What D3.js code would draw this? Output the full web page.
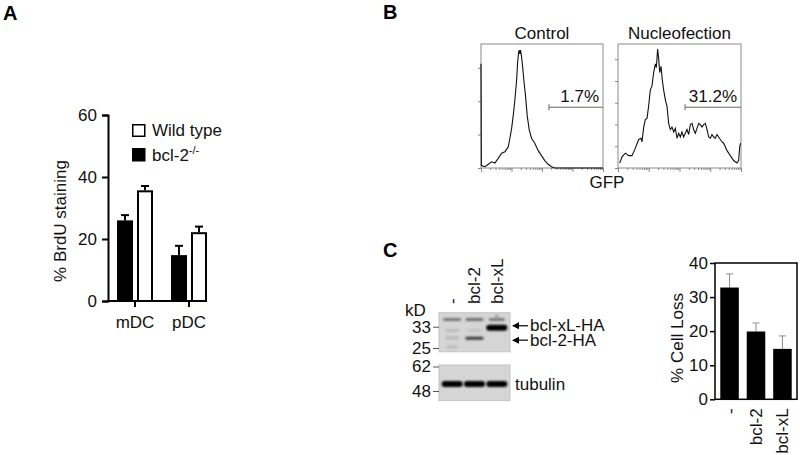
<!DOCTYPE html>
<meta charset="utf-8">
<style>
    body { margin: 0; background: #fff; }
    text { font-family: "Liberation Sans", Arial, Helvetica, sans-serif; font-size: 17px; fill: #111; }
    .panel { font-weight: bold; font-size: 20px; fill: #000; }
    .axA path, .axA line { stroke: #000; stroke-width: 2px; }
    .axC path, .axC line { stroke: #000; stroke-width: 1.5px; }
    .hist path.domain { display: none; }
    .hist line { stroke: #888; stroke-width: 1px; }
    .noline path.domain { display: none; }
</style>
<svg width="800" height="455"></svg>
<script src="https://d3js.org/d3.v7.min.js"></script>
<script>
    // ---- panel A: BrdU staining
    let cellTypes = ["mDC", "pDC"];
    let genotypes = ["bcl-2-/-", "Wild type"];
    let brduKO = [26.0, 14.8];
    let brduKOSem = [1.7, 3.0];
    let brduWT = [35.7, 22.2];
    let brduWTSem = [1.4, 1.8];
    let brduTicks = [0, 20, 40, 60];

    // ---- panel B: GFP histograms, [channel, % of scale]
    let controlHist = [[0,84],[3,2],[33,1],[60,3],[87,5],[114,4],[142,8],[169,12],[196,13],[223,17],[237,24],
        [251,32],[264,42],[278,55],[292,71],[300,85],[308,93],[313,95],[319,92],[324,95],[332,90],[341,82],
        [351,71],[365,58],[379,42],[395,31],[414,24],[441,20],[469,14],[496,10],[523,6],[550,3],[578,1],
        [605,0],[1000,0]];
    let nucleoHist = [[14,4],[33,9],[60,12],[87,10],[114,10],[141,16],[168,23],[187,24],[195,21],[209,33],
        [222,39],[236,40],[249,50],[263,63],[276,66],[290,77],[304,84],[312,81],[322,96],[331,88],[339,77],
        [350,82],[360,71],[371,63],[385,55],[398,50],[412,36],[425,31],[439,33],[453,29],[466,32],[480,24],
        [493,28],[507,25],[520,29],[534,25],[547,28],[561,31],[575,27],[588,35],[602,36],[615,31],[629,28],
        [642,32],[656,36],[669,35],[683,33],[696,35],[710,36],[724,31],[737,25],[751,24],[764,27],[778,25],
        [791,24],[805,27],[818,25],[832,23],[846,21],[859,20],[873,17],[886,14],[900,12],[913,10],[927,8],
        [940,6],[954,5],[967,4],[981,6],[989,17],[997,20]];
    let histTitles = ["Control", "Nucleofection"];
    let gateStart = [557, 545];
    let gateLevel = 49;
    let gateLabels = ["1.7%", "31.2%"];
    let countMax = [74.3, 57];
    let countTicks = [[0, 20, 40, 60], [0, 10, 20, 30, 40, 50]];

    // ---- panel C: western blot
    let lanes = ["-", "bcl-2", "bcl-xL"];
    let upperMarkers = [33, 25];
    let lowerMarkers = [62, 48];
    let upperBlotRange = [39.6, 23.8];
    let lowerBlotRange = [63, 43.4];
    let bands = [
        {blot: "upper", lane: "-", kd: 36.3, dark: 0.45, h: 3, w: 0.9},
        {blot: "upper", lane: "bcl-2", kd: 36.3, dark: 0.5, h: 3, w: 0.9},
        {blot: "upper", lane: "bcl-xL", kd: 36.3, dark: 0.45, h: 3, w: 0.8},
        {blot: "upper", lane: "bcl-xL", kd: 37.8, dark: 0.4, h: 2, w: 0.2},
        {blot: "upper", lane: "bcl-xL", kd: 32.6, dark: 1, h: 6, w: 1.05},
        {blot: "upper", lane: "bcl-2", kd: 28.4, dark: 0.75, h: 3, w: 0.9},
        {blot: "upper", lane: "-", kd: 31.4, dark: 0.12, h: 3, w: 0.7},
        {blot: "upper", lane: "-", kd: 28.5, dark: 0.14, h: 3, w: 0.7},
        {blot: "upper", lane: "-", kd: 25.3, dark: 0.12, h: 3, w: 0.6},
        {blot: "upper", lane: "bcl-2", kd: 31.4, dark: 0.08, h: 3, w: 0.7},
        {blot: "lower", lane: "-", kd: 51.6, dark: 1, h: 6, w: 1.05},
        {blot: "lower", lane: "bcl-2", kd: 51.6, dark: 1, h: 6, w: 1.05},
        {blot: "lower", lane: "bcl-xL", kd: 51.6, dark: 1, h: 6, w: 1.05}
    ];
    let bandLabels = [{kd: 33.4, text: "bcl-xL-HA"}, {kd: 27.7, text: "bcl-2-HA"}];

    // ---- panel C: cell loss
    let constructs = ["-", "bcl-2", "bcl-xL"];
    let cellLoss = [32.8, 19.9, 14.8];
    let cellLossSem = [4.0, 2.5, 3.8];
    let cellLossTicks = [0, 10, 20, 30, 40];

    let svg = d3.select("svg");

    // panel letters
    svg.append("text").attr("class", "panel").attr("x", 3).attr("y", 20).text("A");
    svg.append("text").attr("class", "panel").attr("x", 383).attr("y", 19).text("B");
    svg.append("text").attr("class", "panel").attr("x", 383).attr("y", 257).text("C");

    // ================= A =================
    let xA = d3.scaleBand().domain(cellTypes).range([108, 216]);
    let xA2 = d3.scaleBand().domain(genotypes).range([9, 45]).paddingInner(0.2);
    let yA = d3.scaleLinear().domain([0, 60]).range([301, 115]);
    let gA = svg.append("g");

    gA.append("g").attr("class", "axA").attr("transform", "translate(108,0)")
        .call(d3.axisLeft(yA).tickValues(brduTicks).tickSize(6).tickPadding(5));
    gA.append("g").attr("class", "axA noline").attr("transform", "translate(0,301)")
        .call(d3.axisBottom(xA).tickSize(6).tickPadding(9).tickSizeOuter(0));
    gA.append("line")
        .attr("x1", 107).attr("x2", xA("pDC") + xA.bandwidth() / 2 + 6)
        .attr("y1", 301).attr("y2", 301).attr("stroke", "#000").attr("stroke-width", 2);

    let rowsA = [];
    cellTypes.forEach(function(c, i) {
        rowsA.push({c: c, g: genotypes[0], v: brduKO[i], e: brduKOSem[i]});
        rowsA.push({c: c, g: genotypes[1], v: brduWT[i], e: brduWTSem[i]});
    });
    let barA = gA.selectAll(".barA").data(rowsA).enter().append("g").attr("class", "barA");
    barA.append("line")
        .attr("x1", function(d) { return xA(d.c) + xA2(d.g) + xA2.bandwidth() / 2; })
        .attr("x2", function(d) { return xA(d.c) + xA2(d.g) + xA2.bandwidth() / 2; })
        .attr("y1", function(d) { return yA(d.v); })
        .attr("y2", function(d) { return yA(d.v + d.e); })
        .attr("stroke", "#000").attr("stroke-width", 2);
    barA.append("line")
        .attr("x1", function(d) { return xA(d.c) + xA2(d.g) + xA2.bandwidth() / 2 - 4; })
        .attr("x2", function(d) { return xA(d.c) + xA2(d.g) + xA2.bandwidth() / 2 + 4; })
        .attr("y1", function(d) { return yA(d.v + d.e); })
        .attr("y2", function(d) { return yA(d.v + d.e); })
        .attr("stroke", "#000").attr("stroke-width", 2);
    barA.append("rect")
        .attr("x", function(d) { return xA(d.c) + xA2(d.g) + (d.g === "Wild type" ? 1 : 0); })
        .attr("width", function(d) { return xA2.bandwidth() - (d.g === "Wild type" ? 2 : 0); })
        .attr("y", function(d) { return yA(d.v) + (d.g === "Wild type" ? 1 : 0); })
        .attr("height", function(d) { return yA(0) - yA(d.v) - (d.g === "Wild type" ? 1 : 0); })
        .attr("fill", function(d) { return d.g === "Wild type" ? "#fff" : "#000"; })
        .attr("stroke", "#000").attr("stroke-width", function(d) { return d.g === "Wild type" ? 2 : 0; });

    // legend
    let legA = gA.append("g").attr("transform", "translate(132,124)");
    legA.append("rect").attr("x", 0.75).attr("y", 0.75).attr("width", 12).attr("height", 11.5)
        .attr("fill", "#fff").attr("stroke", "#000").attr("stroke-width", 1.5);
    legA.append("text").attr("x", 20).attr("y", 11.5).text("Wild type");
    legA.append("rect").attr("x", 0).attr("y", 24).attr("width", 13.5).attr("height", 13.5).attr("fill", "#000");
    let koText = legA.append("text").attr("x", 20).attr("y", 37).text("bcl-2");
    koText.append("tspan").attr("dy", -7).style("font-size", "11px").text("-/-");

    gA.append("text").attr("transform", "translate(66,221) rotate(-90)")
        .attr("text-anchor", "middle").text("% BrdU staining");

    // ================= B =================
    let histBoxes = [[481, 603], [618, 741]];
    let yH = d3.scaleLinear().domain([0, 100]).range([168, 44]);
    [controlHist, nucleoHist].forEach(function(hist, k) {
        let xH = d3.scaleLinear().domain([0, 1000]).range(histBoxes[k]);
        let xLog = d3.scaleLog().domain([1, 10000]).range(histBoxes[k]);
        let yCount = d3.scaleLinear().domain([0, countMax[k]]).range([168, 44]);
        let g = svg.append("g");

        let minor = [];
        for (let p = 0; p < 4; p++) for (let m = 2; m < 10; m++) minor.push(m * Math.pow(10, p));
        g.append("g").attr("class", "hist").attr("transform", "translate(0,168)")
            .call(d3.axisBottom(xLog).tickValues(minor).tickSize(2).tickFormat(""));
        g.append("g").attr("class", "hist").attr("transform", "translate(0,168)")
            .call(d3.axisBottom(xLog).tickValues([1, 10, 100, 1000, 10000]).tickSize(4).tickFormat(""));
        g.append("g").attr("class", "hist").attr("transform", "translate(" + histBoxes[k][0] + ",0)")
            .call(d3.axisLeft(yCount).tickValues(countTicks[k]).tickSize(3).tickFormat(""));

        g.append("rect").attr("x", histBoxes[k][0]).attr("y", yH(100))
            .attr("width", histBoxes[k][1] - histBoxes[k][0]).attr("height", yH(0) - yH(100))
            .attr("fill", "none").attr("stroke", "#8a8a8a").attr("stroke-width", 1);

        g.append("path").datum(hist)
            .attr("fill", "none").attr("stroke", "#111").attr("stroke-width", 1.1)
            .attr("d", d3.line().x(function(d) { return xH(d[0]); }).y(function(d) { return yH(d[1]); }));

        // gate
        g.append("line").attr("x1", xH(gateStart[k])).attr("x2", xH(1000))
            .attr("y1", yH(gateLevel)).attr("y2", yH(gateLevel)).attr("stroke", "#666").attr("stroke-width", 1);
        g.append("line").attr("x1", xH(gateStart[k])).attr("x2", xH(gateStart[k]))
            .attr("y1", yH(gateLevel) - 3).attr("y2", yH(gateLevel) + 3).attr("stroke", "#666").attr("stroke-width", 1);
        g.append("text").attr("x", xH(1000) - 4).attr("y", yH(gateLevel) - 5)
            .attr("text-anchor", "end").text(gateLabels[k]);

        g.append("text").attr("x", (histBoxes[k][0] + histBoxes[k][1]) / 2).attr("y", 39)
            .attr("text-anchor", "middle").text(histTitles[k]);
    });
    svg.append("text").attr("x", 607).attr("y", 188).attr("text-anchor", "middle").text("GFP");

    // ================= C: blot =================
    let xL = d3.scaleBand().domain(lanes).range([441, 508]).paddingInner(0.1).paddingOuter(0.05);
    let yUp = d3.scaleLog().domain([33, 25]).range([326.7, 348]);
    let yLow = d3.scaleLog().domain([62, 48]).range([366.5, 391]);
    let blotY = {upper: yUp, lower: yLow};

    let defs = svg.append("defs");
    defs.append("filter").attr("id", "blur").attr("x", "-20%").attr("y", "-100%")
        .attr("width", "140%").attr("height", "300%")
        .append("feGaussianBlur").attr("stdDeviation", 0.9);
    defs.append("filter").attr("id", "soft")
        .append("feGaussianBlur").attr("stdDeviation", 0.6);

    let gBlot = svg.append("g");
    [[yUp, upperBlotRange], [yLow, lowerBlotRange]].forEach(function(b) {
        gBlot.append("rect").attr("x", 439).attr("width", 71)
            .attr("y", b[0](b[1][0])).attr("height", b[0](b[1][1]) - b[0](b[1][0]))
            .attr("fill", "#d5d5d5").attr("stroke", "#c4c4c4").attr("stroke-width", 1)
            .attr("filter", "url(#soft)");
    });
    let bandColor = d3.interpolateRgb("#d5d5d5", "#050505");
    gBlot.selectAll(".band").data(bands).enter().append("rect").attr("class", "band")
        .attr("x", function(d) { return xL(d.lane) + xL.bandwidth() * (1 - d.w) / 2; })
        .attr("width", function(d) { return xL.bandwidth() * d.w; })
        .attr("y", function(d) { return blotY[d.blot](d.kd) - d.h / 2; })
        .attr("height", function(d) { return d.h; })
        .attr("rx", function(d) { return d.h / 2; })
        .attr("fill", function(d) { return bandColor(d.dark); })
        .attr("filter", "url(#blur)");

    // MW markers
    let mw = [[yUp, upperMarkers], [yLow, lowerMarkers]];
    mw.forEach(function(m) {
        let ax = gBlot.append("g").attr("class", "noline").attr("transform", "translate(439,0)")
            .call(d3.axisLeft(m[0]).tickValues(m[1]).tickSize(6).tickPadding(2).tickFormat(d3.format("d")));
        ax.selectAll("line").attr("stroke", "#555").attr("stroke-width", 1);
    });
    gBlot.append("text").attr("x", 405).attr("y", 316).text("kD");

    lanes.forEach(function(l) {
        gBlot.append("text")
            .attr("transform", "translate(" + (xL(l) + xL.bandwidth() / 2) + ",304) rotate(-90)")
            .attr("dy", "0.35em").text(l);
    });

    bandLabels.forEach(function(b) {
        let y = yUp(b.kd);
        gBlot.append("path").attr("d", "M512," + y + "L519," + (y - 3.5) + "L519," + (y + 3.5) + "Z").attr("fill", "#000");
        gBlot.append("line").attr("x1", 518).attr("x2", 528).attr("y1", y).attr("y2", y)
            .attr("stroke", "#000").attr("stroke-width", 1.2);
        gBlot.append("text").attr("x", 530).attr("y", y + 5.5).text(b.text);
    });
    gBlot.append("text").attr("x", 515).attr("y", yLow(51.6)).attr("dy", "0.35em").text("tubulin");

    // ================= C: cell loss =================
    let xC = d3.scaleBand().domain(constructs).range([715, 797]).paddingInner(0.3).paddingOuter(0.2);
    let yC = d3.scaleLinear().domain([0, 40]).range([399.3, 263]);
    let gC = svg.append("g");

    gC.selectAll(".errC").data(constructs).enter().append("path").attr("class", "errC")
        .attr("d", function(d, i) {
            let cx = xC(d) + xC.bandwidth() / 2;
            let top = yC(cellLoss[i] + cellLossSem[i]);
            return "M" + cx + "," + yC(cellLoss[i]) + "V" + top + "M" + (cx - 3.5) + "," + top + "H" + (cx + 3.5);
        })
        .attr("fill", "none").attr("stroke", "#8c8c8c").attr("stroke-width", 1);
    gC.selectAll(".barC").data(constructs).enter().append("rect").attr("class", "barC")
        .attr("x", function(d) { return xC(d); })
        .attr("width", xC.bandwidth())
        .attr("y", function(d, i) { return yC(cellLoss[i]); })
        .attr("height", function(d, i) { return yC(0) - yC(cellLoss[i]); })
        .attr("fill", "#000");

    gC.append("rect").attr("x", 715).attr("y", yC(40)).attr("width", 82).attr("height", yC(0) - yC(40))
        .attr("fill", "none").attr("stroke", "#000").attr("stroke-width", 1.5);
    gC.append("g").attr("class", "axC noline").attr("transform", "translate(715,0)")
        .call(d3.axisLeft(yC).tickValues(cellLossTicks).tickSize(5).tickPadding(2));
    let xAxisC = gC.append("g").attr("class", "noline").attr("transform", "translate(0,399.3)")
        .call(d3.axisBottom(xC).tickSize(0));
    xAxisC.selectAll("text")
        .attr("x", -9).attr("y", 0).attr("dy", "0.35em")
        .attr("text-anchor", "end").attr("transform", "rotate(-90)");

    gC.append("text").attr("transform", "translate(683,338) rotate(-90)")
        .attr("text-anchor", "middle").text("% Cell Loss");
</script>
